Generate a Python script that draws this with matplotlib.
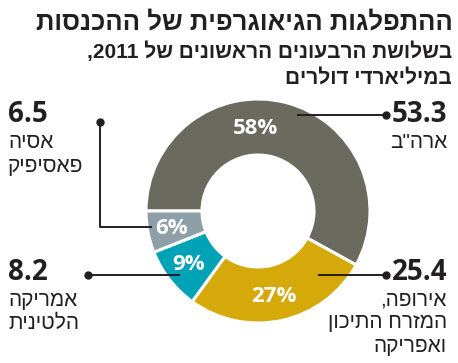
import re

import matplotlib
matplotlib.use("Agg")
import matplotlib.pyplot as plt

# data
regions = ['ארה"ב', "אירופה,\nהמזרח התיכון\nואפריקה", "אמריקה\nהלטינית", "אסיה\nפאסיפיק"]
revenue = ["53.3", "25.4", "8.2", "6.5"]
shares = [58, 27, 9, 6]
colors = ["#6b6a5f", "#d5a90a", "#00a2b5", "#8e9fa8"]

title = "ההתפלגות הגיאוגרפית של ההכנסות"
subtitle = ["בשלושת הרבעונים הראשונים של 2011,", "במיליארדי דולרים"]

HEB = ["Liberation Sans", "DejaVu Sans"]
NUM = ["Open Sans", "Liberation Sans", "DejaVu Sans"]
INK = "#231f20"
H = 363


def vis(s):
    # matplotlib has no bidi: put Hebrew in visual order, keep numbers LTR
    toks = re.findall(r"\d[\d.]*|[^\d]+", s)
    out = [t if t[0].isdigit() else t[::-1] for t in toks]
    return "".join(out[::-1])


def Y(py):
    return H - py


fig = plt.figure(figsize=(4.58, 3.63), dpi=100)
ax = fig.add_axes([0, 0, 1, 1])

ax.pie(shares, colors=colors, startangle=180, counterclock=False,
       center=(258, Y(211)), radius=112, frame=True,
       wedgeprops=dict(width=56, edgecolor="white", linewidth=2.2))
ax.set_xlim(0, 458)
ax.set_ylim(0, H)
ax.set_aspect("equal")
ax.axis("off")

# percentage labels inside the ring
pct_pos = [(255, 129), (274, 296), (189, 264), (172, 228)]
for p, (x, y) in zip(shares, pct_pos):
    ax.text(x, Y(y), f"{p}%", color="white", fontsize=16, fontweight="bold",
            family=NUM, ha="center", va="center")

# leader lines
leaders = [
    [(297, 115), (386, 115)],
    [(318, 275), (386, 275)],
    [(180, 275), (88, 275)],
    [(152, 227), (100, 227), (100, 122)],
]
for pts in leaders:
    xs = [p[0] for p in pts]
    ys = [Y(p[1]) for p in pts]
    ax.plot(xs, ys, color=INK, lw=1.4, solid_capstyle="butt")
    ax.plot(xs[-1], ys[-1], "o", color=INK, ms=5)

# value + region labels
lab_pos = [(447, 115, "right"), (447, 272, "right"), (8, 272, "left"), (8, 115, "left")]
for name, val, (x, y, ha) in zip(regions, revenue, lab_pos):
    ax.text(x, Y(y), val, fontsize=20, fontweight="bold", family=NUM,
            color=INK, ha=ha, va="center")
    for i, line in enumerate(name.split("\n")):
        ax.text(x, Y(y + 28 + 23 * i), vis(line), fontsize=15, family=HEB,
                color=INK, ha=ha, va="center")

# titles
fig.text(453 / 458, 1 - 22 / H, vis(title), fontsize=18.5, fontweight="bold",
         family=HEB, color=INK, ha="right", va="center")
for i, line in enumerate(subtitle):
    fig.text(452 / 458, 1 - (52 + 26 * i) / H, vis(line), fontsize=15,
             fontweight="bold", family=HEB, color=INK, ha="right", va="center")

fig.savefig("out.png", dpi=100, facecolor="white")
